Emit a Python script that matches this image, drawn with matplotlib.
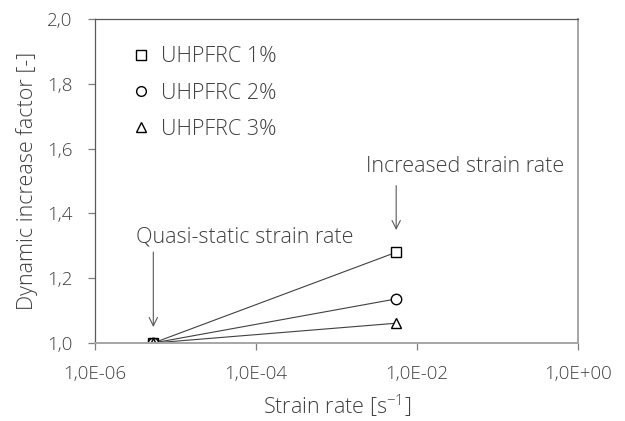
import numpy as np
import matplotlib
matplotlib.use("Agg")
import matplotlib.pyplot as plt
from matplotlib.ticker import FuncFormatter, FixedLocator, NullLocator

plt.rcParams["font.family"] = ["Open Sans", "DejaVu Sans"]
plt.rcParams["mathtext.default"] = "regular"

# data
strain_rate = [5.3e-6, 5.5e-3]
dif_1 = [1.0, 1.28]
dif_2 = [1.0, 1.136]
dif_3 = [1.0, 1.061]
series = [("UHPFRC 1%", "s", dif_1), ("UHPFRC 2%", "o", dif_2), ("UHPFRC 3%", "^", dif_3)]
x_ticks = [1e-6, 1e-4, 1e-2, 1e0]
y_ticks = [1.0, 1.2, 1.4, 1.6, 1.8, 2.0]

txt = "#404040"
fs = 15.5
fig = plt.figure(figsize=(6.25, 4.21), dpi=100)
ax = fig.add_axes([0.152, 0.1853, 0.773, 0.7696])

for label, mk, vals in series:
    ax.plot(strain_rate, vals, color="#404040", lw=0.8, marker=mk, ms=7.5,
            mfc="white", mec="black", mew=1.0, label=label)

ax.set_xscale("log")
ax.set_xlim(1e-6, 1e0)
ax.set_ylim(1.0, 2.0)
ax.xaxis.set_major_locator(FixedLocator(x_ticks))
ax.xaxis.set_minor_locator(NullLocator())
ax.yaxis.set_major_locator(FixedLocator(y_ticks))
ax.xaxis.set_major_formatter(FuncFormatter(lambda v, p: "{:.1E}".format(v).replace(".", ",")))
ax.yaxis.set_major_formatter(FuncFormatter(lambda v, p: "{:.1f}".format(v).replace(".", ",")))

for s in ["top", "left"]:
    ax.spines[s].set_color("#595959")
    ax.spines[s].set_linewidth(0.9)
for s in ["bottom", "right"]:
    ax.spines[s].set_color("#a6a6a6")
    ax.spines[s].set_linewidth(1.4)

ax.tick_params(axis="both", direction="out", length=5, width=0.9, color="#7f7f7f",
               labelsize=13.5, labelcolor=txt, pad=11)
for t in ax.get_xticklabels() + ax.get_yticklabels():
    t.set_fontweight("light")

ax.set_xlabel("Strain rate [s$^{-1}$]", fontsize=fs, color=txt, fontweight="light", labelpad=7)
ax.set_ylabel("Dynamic increase factor [-]", fontsize=fs, color=txt, fontweight="light", labelpad=7)

leg = ax.legend(loc="upper left", bbox_to_anchor=(0.035, 0.975), frameon=False,
                fontsize=fs, handlelength=0.9, handletextpad=0.5, labelspacing=0.7)
for t in leg.get_texts():
    t.set_color(txt)
    t.set_fontweight("light")
for h in leg.legend_handles:
    h.set_linestyle("none")
    h.set_markersize(7)

arrow = dict(arrowstyle="->,head_length=0.6,head_width=0.3", color="#595959", lw=0.8,
             shrinkA=0)
p_hi = (strain_rate[1], dif_1[1])
p_lo = (strain_rate[0], dif_1[0])
ax.annotate("", xy=p_hi, xytext=(0, 48), textcoords="offset points",
            arrowprops=dict(arrow, shrinkB=16))
ax.annotate("", xy=p_lo, xytext=(0, 65.5), textcoords="offset points",
            arrowprops=dict(arrow, shrinkB=11.5))
ax.annotate("Increased strain rate", xy=p_hi, xytext=(50, 62),
            textcoords="offset points", ha="center", va="center", fontsize=fs,
            color=txt, fontweight="light")
ax.annotate("Quasi-static strain rate", xy=p_lo, xytext=(66, 76),
            textcoords="offset points", ha="center", va="center", fontsize=fs,
            color=txt, fontweight="light")

fig.savefig("out.png", dpi=100, facecolor="white")
